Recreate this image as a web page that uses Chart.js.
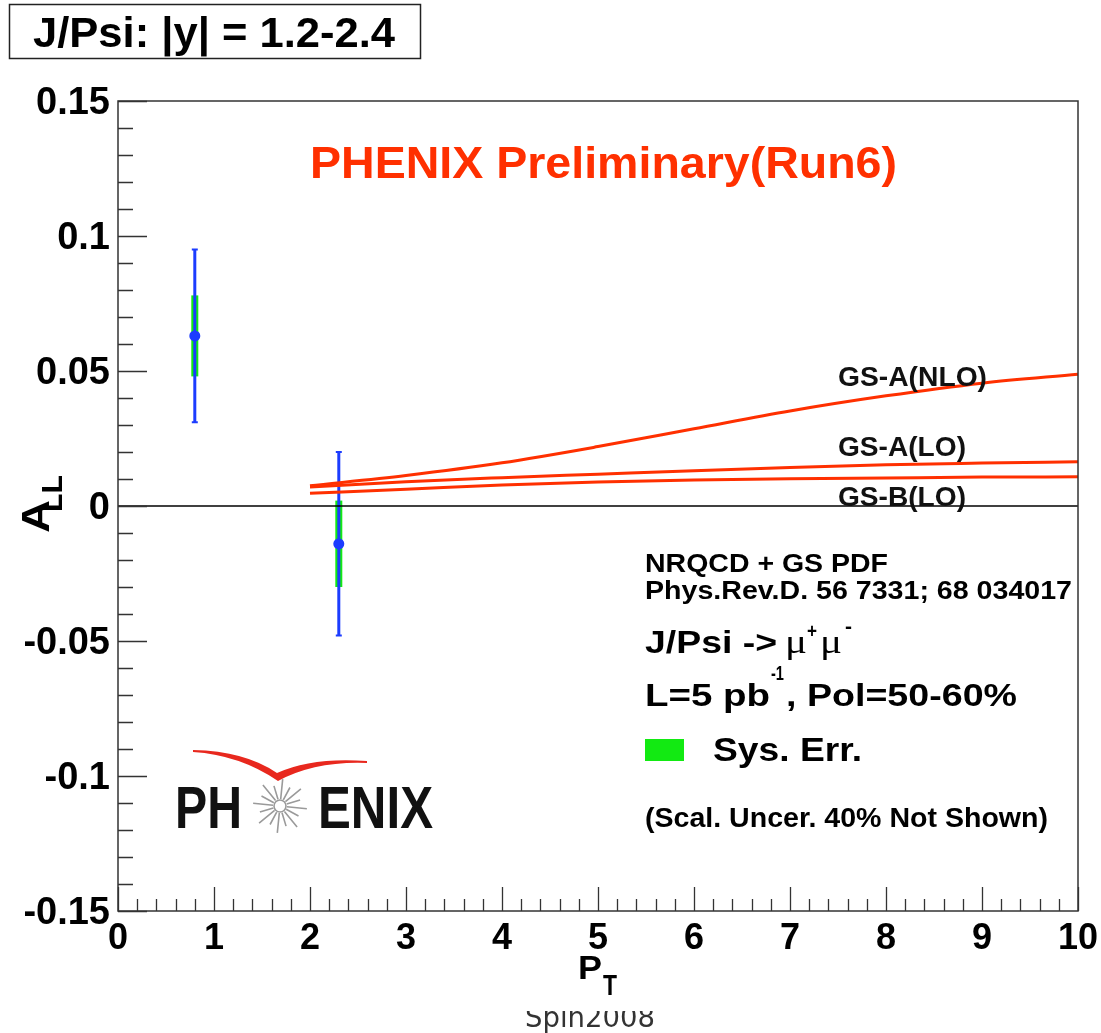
<!DOCTYPE html>
<html>
<head>
<meta charset="utf-8">
<script src="https://cdn.jsdelivr.net/npm/chart.js@4/dist/chart.umd.min.js"></script>
<style>
  html, body { margin: 0; padding: 0; background: #fff; overflow: hidden; }
  canvas { display: block; }
</style>
</head>
<body>
<canvas id="c" width="1101" height="1033"></canvas>
<script>
// J/Psi -> mu+ mu- double helicity asymmetry A_LL versus P_T, forward rapidity
const ptBins   = [0.8, 2.3];
const allValue = [0.063, -0.014];
const statErr  = [0.032, 0.034];
const sysErr   = [0.015, 0.016];

// NRQCD + GS PDF predictions
const curveX = [2, 3, 4, 5, 6, 7, 8, 9, 10];
const gsaNLO = [0.0075, 0.0113, 0.0160, 0.0220, 0.0286, 0.0352, 0.0408, 0.0455, 0.0488];
const gsaLO  = [0.0070, 0.0090, 0.0105, 0.0118, 0.0131, 0.0143, 0.0153, 0.0159, 0.0164];
const gsbLO  = [0.0047, 0.0062, 0.0078, 0.0089, 0.0096, 0.0101, 0.0104, 0.0107, 0.0108];

const xTickValues = [0, 1, 2, 3, 4, 5, 6, 7, 8, 9, 10];
const xTickLabels = ['0', '1', '2', '3', '4', '5', '6', '7', '8', '9', '10'];
const yTickValues = [-0.15, -0.1, -0.05, 0, 0.05, 0.1, 0.15];
const yTickLabels = ['-0.15', '-0.1', '-0.05', '0', '0.05', '0.1', '0.15'];

const RED = '#ff3000';
const BLUE = '#1c3cff';
const GREEN = '#12ea12';
const FONT = '"Liberation Sans", Arial, Helvetica, sans-serif';

function fitText(ctx, str, x, y, font, color, width) {
  ctx.save();
  ctx.font = font;
  ctx.fillStyle = color;
  ctx.textAlign = 'left';
  ctx.textBaseline = 'alphabetic';
  const w = ctx.measureText(str).width;
  const sx = width ? width / w : 1;
  ctx.translate(x, y);
  ctx.scale(sx, 1);
  ctx.fillText(str, 0, 0);
  ctx.restore();
}

const POINTS_INDEX = 4;

// systematic boxes and statistical bars, drawn just before the markers
const errorBars = {
  id: 'errorBars',
  beforeDatasetDraw(chart, args) {
    if (args.index !== POINTS_INDEX) return;
    const ctx = chart.ctx, xs = chart.scales.x, ys = chart.scales.y;
    ctx.save();
    ptBins.forEach((pt, i) => {
      const px = xs.getPixelForValue(pt);
      const sTop = ys.getPixelForValue(allValue[i] + sysErr[i]);
      const sBot = ys.getPixelForValue(allValue[i] - sysErr[i]);
      ctx.fillStyle = GREEN;
      ctx.fillRect(px - 3.5, sTop, 7, sBot - sTop);
      const eTop = ys.getPixelForValue(allValue[i] + statErr[i]);
      const eBot = ys.getPixelForValue(allValue[i] - statErr[i]);
      ctx.strokeStyle = BLUE;
      ctx.lineWidth = 3;
      ctx.beginPath();
      ctx.moveTo(px, eTop); ctx.lineTo(px, eBot);
      ctx.stroke();
      ctx.lineWidth = 2;
      ctx.beginPath();
      ctx.moveTo(px - 3, eTop); ctx.lineTo(px + 3, eTop);
      ctx.moveTo(px - 3, eBot); ctx.lineTo(px + 3, eBot);
      ctx.stroke();
    });
    ctx.restore();
  }
};

// frame with inward major and minor ticks
const frame = {
  id: 'frame',
  afterDatasetsDraw(chart) {
    const ctx = chart.ctx, a = chart.chartArea, xs = chart.scales.x, ys = chart.scales.y;
    ctx.save();
    ctx.strokeStyle = '#333';
    ctx.lineWidth = 1.5;
    ctx.strokeRect(a.left, a.top, a.right - a.left, a.bottom - a.top);
    ctx.beginPath();
    for (let k = 0; k <= 50; k++) {
      const v = k * 0.2;
      const px = Math.round(xs.getPixelForValue(v)) + 0.5;
      const len = (k % 5 === 0) ? 24 : 12;
      ctx.moveTo(px, a.bottom); ctx.lineTo(px, a.bottom - len);
    }
    for (let k = -15; k <= 15; k++) {
      const v = k * 0.01;
      const py = Math.round(ys.getPixelForValue(v)) + 0.5;
      const len = (k % 5 === 0) ? 29 : 15;
      ctx.moveTo(a.left, py); ctx.lineTo(a.left + len, py);
    }
    ctx.lineWidth = 1.3;
    ctx.stroke();
    ctx.restore();
  }
};

function drawLogo(ctx) {
  ctx.save();
  ctx.filter = 'blur(0.7px)';
  // red swoosh
  ctx.fillStyle = '#e8281e';
  ctx.beginPath();
  ctx.moveTo(193, 750);
  ctx.quadraticCurveTo(245, 751, 277, 773);
  ctx.quadraticCurveTo(312, 757, 367, 761);
  ctx.lineTo(367, 763);
  ctx.quadraticCurveTo(315, 761, 278, 781);
  ctx.quadraticCurveTo(240, 755, 193, 752);
  ctx.closePath();
  ctx.fill();
  // starburst
  const cx = 280, cy = 806;
  ctx.strokeStyle = '#9a9a9a';
  ctx.lineWidth = 1.6;
  ctx.beginPath();
  for (let k = 0; k < 16; k++) {
    const ang = k * Math.PI / 8 + 0.1;
    const r1 = 7, r2 = (k % 2 === 0) ? 27 : 21;
    ctx.moveTo(cx + r1 * Math.cos(ang), cy + r1 * Math.sin(ang));
    ctx.lineTo(cx + r2 * Math.cos(ang), cy + r2 * Math.sin(ang));
  }
  ctx.stroke();
  ctx.beginPath();
  ctx.arc(cx, cy, 6, 0, Math.PI * 2);
  ctx.stroke();
  fitText(ctx, 'PH', 175, 828, 'bold 60px ' + FONT, '#111', 67);
  fitText(ctx, 'ENIX', 318, 828, 'bold 60px ' + FONT, '#111', 115);
  ctx.restore();
}

const annotations = {
  id: 'annotations',
  afterDraw(chart) {
    const ctx = chart.ctx;
    ctx.save();
    // header box
    ctx.strokeStyle = '#222';
    ctx.lineWidth = 1.5;
    ctx.strokeRect(9.5, 4.5, 411, 54);
    fitText(ctx, 'J/Psi: |y| = 1.2-2.4', 33, 47, 'bold 43px ' + FONT, '#000', 362);

    fitText(ctx, 'PHENIX Preliminary(Run6)', 310, 178, 'bold 45px ' + FONT, RED, 587);

    fitText(ctx, 'GS-A(NLO)', 838, 386, 'bold 27px ' + FONT, '#111', 149);
    fitText(ctx, 'GS-A(LO)', 838, 456, 'bold 27px ' + FONT, '#111', 128);
    fitText(ctx, 'GS-B(LO)', 838, 506, 'bold 27px ' + FONT, '#111', 128);

    fitText(ctx, 'NRQCD + GS PDF', 645, 572, 'bold 26px ' + FONT, '#000', 243);
    fitText(ctx, 'Phys.Rev.D. 56 7331; 68 034017', 645, 599, 'bold 26px ' + FONT, '#000', 427);

    fitText(ctx, 'J/Psi ->', 645, 653, 'bold 32px ' + FONT, '#000', 132);
    fitText(ctx, '\u03bc', 785, 653, '34px "Liberation Serif", "Times New Roman", serif', '#000', 22);
    fitText(ctx, '+', 807, 638, 'bold 20px ' + FONT, '#000', 10);
    fitText(ctx, '\u03bc', 820, 653, '34px "Liberation Serif", "Times New Roman", serif', '#000', 22);
    fitText(ctx, '-', 845, 633, 'bold 20px ' + FONT, '#000', 7);

    fitText(ctx, 'L=5 pb', 645, 706, 'bold 32px ' + FONT, '#000', 125);
    fitText(ctx, '-1', 771, 680, 'bold 20px ' + FONT, '#000', 13);
    fitText(ctx, ', Pol=50-60%', 786, 706, 'bold 32px ' + FONT, '#000', 231);

    ctx.fillStyle = GREEN;
    ctx.fillRect(645, 739, 39, 22);
    fitText(ctx, 'Sys. Err.', 713, 761, 'bold 33px ' + FONT, '#000', 149);

    fitText(ctx, '(Scal. Uncer. 40% Not Shown)', 645, 827, 'bold 27px ' + FONT, '#000', 403);

    drawLogo(ctx);

    // y-axis title A_LL
    ctx.save();
    ctx.rotate(-Math.PI / 2);
    fitText(ctx, 'A', -533, 49, 'bold 38px ' + FONT, '#000', 33);
    fitText(ctx, 'LL', -512, 62, 'bold 30px ' + FONT, '#000', 37);
    ctx.restore();

    // x-axis title P_T
    fitText(ctx, 'P', 578, 979, 'bold 34px ' + FONT, '#000', 24);
    fitText(ctx, 'T', 603, 995, 'bold 30px ' + FONT, '#000', 14);

    // conference tag at the foot of the page
    ctx.save();
    ctx.beginPath();
    ctx.rect(0, 1011, 1101, 30);
    ctx.clip();
    fitText(ctx, 'Spin2008', 525, 1027, '28px "DejaVu Sans", sans-serif', '#333', 130);
    ctx.restore();

    ctx.restore();
  }
};

const curveStyle = (label, ys) => ({
  type: 'line',
  label,
  data: curveX.map((x, i) => ({ x, y: ys[i] })),
  borderColor: RED,
  borderWidth: 3,
  pointRadius: 0,
  cubicInterpolationMode: 'monotone',
  fill: false
});

new Chart(document.getElementById('c'), {
  type: 'scatter',
  data: {
    datasets: [
      {
        type: 'line',
        label: 'zero',
        data: [{ x: 0, y: 0 }, { x: 10, y: 0 }],
        borderColor: '#000',
        borderWidth: 1.5,
        pointRadius: 0
      },
      curveStyle('GS-A(NLO)', gsaNLO),
      curveStyle('GS-A(LO)', gsaLO),
      curveStyle('GS-B(LO)', gsbLO),
      {
        type: 'scatter',
        label: 'A_LL',
        data: ptBins.map((x, i) => ({ x, y: allValue[i] })),
        pointRadius: 5.5,
        pointBackgroundColor: BLUE,
        pointBorderWidth: 0
      }
    ]
  },
  options: {
    responsive: false,
    animation: false,
    events: [],
    devicePixelRatio: 1,
    layout: { padding: { top: 101, right: 23, bottom: 0, left: 0 } },
    plugins: { legend: { display: false }, tooltip: { enabled: false } },
    scales: {
      x: {
        type: 'linear',
        min: 0, max: 10,
        grid: { display: false, drawTicks: false },
        border: { display: false },
        afterBuildTicks: s => { s.ticks = xTickValues.map(v => ({ value: v })); },
        afterFit: s => { s.height = 122; s.paddingLeft = 0; s.paddingRight = 0; },
        ticks: {
          autoSkip: false,
          maxRotation: 0,
          padding: 6,
          color: '#000',
          font: { family: FONT, size: 36, weight: 'bold' },
          callback: (v, i) => xTickLabels[i]
        }
      },
      y: {
        type: 'linear',
        min: -0.15, max: 0.15,
        grid: { display: false, drawTicks: false },
        border: { display: false },
        afterBuildTicks: s => { s.ticks = yTickValues.map(v => ({ value: v })); },
        afterFit: s => { s.width = 118; s.paddingTop = 0; s.paddingBottom = 0; },
        ticks: {
          autoSkip: false,
          padding: 8,
          labelOffset: 3,
          color: '#000',
          font: { family: FONT, size: 38, weight: 'bold' },
          callback: (v, i) => yTickLabels[i]
        }
      }
    }
  },
  plugins: [errorBars, frame, annotations]
});
</script>
</body>
</html>
